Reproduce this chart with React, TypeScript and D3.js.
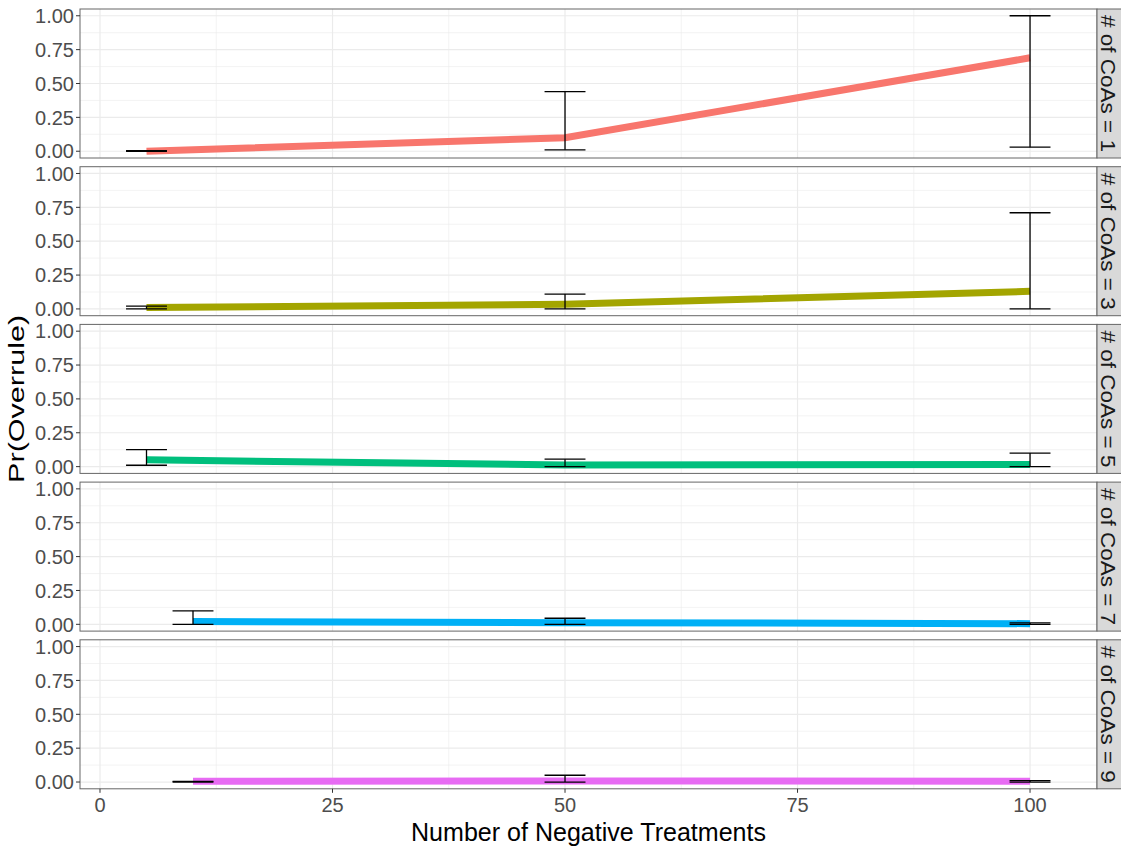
import React from 'react'
import * as d3 from 'd3'

// number of CoAs, one facet per value
const coas = [1, 3, 5, 7, 9]
const colors = ['#F8766D', '#A3A500', '#00BF7D', '#00B0F6', '#E76BF3']

// number of negative treatments per facet
const negTreatments = [
  [5, 50, 100],
  [5, 50, 100],
  [5, 50, 100],
  [10, 50, 100],
  [10, 50, 100]
]
// estimated Pr(Overrule)
const estimates = [
  [0.0, 0.1, 0.69],
  [0.01, 0.035, 0.13],
  [0.05, 0.012, 0.015],
  [0.02, 0.012, 0.005],
  [0.005, 0.008, 0.005]
]
const lowerCI = [
  [0.0, 0.01, 0.03],
  [0.0, 0.0, 0.0],
  [0.01, 0.0, 0.0],
  [0.0, 0.0, 0.0],
  [0.0, 0.0, 0.0]
]
const upperCI = [
  [0.005, 0.44, 1.0],
  [0.02, 0.11, 0.71],
  [0.125, 0.055, 0.1],
  [0.1, 0.045, 0.01],
  [0.005, 0.05, 0.01]
]

const xTicks = [0, 25, 50, 75, 100]
const xMinor = [12.5, 37.5, 62.5, 87.5]
const yTicks = [0, 0.25, 0.5, 0.75, 1]
const yMinor = [0.125, 0.375, 0.625, 0.875]

const W = 1121
const H = 847
const left = 80
const right = 1097
const stripW = 26
const top0 = 9
const panelH = 149
const step = 157.7
const capHalf = 2.2
const font = 'Liberation Sans, Arial, Helvetica, sans-serif'

export default function App() {
  const x = d3.scaleLinear().domain([-2.15, 107.2]).range([left, right])
  const line = d3.line<[number, number]>()

  return (
    <svg
      width={W}
      height={H}
      style={{ position: 'absolute', left: 0, top: 0, background: '#fff' }}
      fontFamily={font}
    >
      {coas.map((c, i) => {
        const top = top0 + i * step
        const y = d3.scaleLinear().domain([-0.05, 1.05]).range([top + panelH, top])
        const pts: [number, number][] = negTreatments[i].map((t, j) => [x(t), y(estimates[i][j])])
        return (
          <g key={c}>
            <rect x={left} y={top} width={right - left} height={panelH} fill="#fff" />
            {yMinor.map(v => (
              <line key={'ym' + v} x1={left} x2={right} y1={y(v)} y2={y(v)} stroke="#EBEBEB" strokeWidth={0.6} />
            ))}
            {xMinor.map(v => (
              <line key={'xm' + v} x1={x(v)} x2={x(v)} y1={top} y2={top + panelH} stroke="#EBEBEB" strokeWidth={0.6} />
            ))}
            {yTicks.map(v => (
              <line key={'y' + v} x1={left} x2={right} y1={y(v)} y2={y(v)} stroke="#EBEBEB" strokeWidth={1.2} />
            ))}
            {xTicks.map(v => (
              <line key={'x' + v} x1={x(v)} x2={x(v)} y1={top} y2={top + panelH} stroke="#EBEBEB" strokeWidth={1.2} />
            ))}
            <path d={line(pts) || ''} fill="none" stroke={colors[i]} strokeWidth={7} />
            {negTreatments[i].map((t, j) => (
              <g key={'e' + t} stroke="#000" strokeWidth={1.3}>
                <line x1={x(t)} x2={x(t)} y1={y(lowerCI[i][j])} y2={y(upperCI[i][j])} />
                <line x1={x(t - capHalf)} x2={x(t + capHalf)} y1={y(lowerCI[i][j])} y2={y(lowerCI[i][j])} />
                <line x1={x(t - capHalf)} x2={x(t + capHalf)} y1={y(upperCI[i][j])} y2={y(upperCI[i][j])} />
              </g>
            ))}
            <rect x={left} y={top} width={right - left} height={panelH} fill="none" stroke="#666" strokeWidth={1} />
            {yTicks.map(v => (
              <g key={'yl' + v}>
                <line x1={left - 4} x2={left} y1={y(v)} y2={y(v)} stroke="#333" strokeWidth={1} />
                <text x={left - 6} y={y(v)} dy="0.36em" textAnchor="end" fontSize={20} fill="#4D4D4D">
                  {d3.format('.2f')(v)}
                </text>
              </g>
            ))}
            <rect x={right} y={top} width={stripW} height={panelH} fill="#D9D9D9" stroke="#666" strokeWidth={1} />
            <text
              transform={`translate(${right + 4},${top + panelH / 2}) rotate(90)`}
              textAnchor="middle"
              fontSize={21}
              textLength={137}
              lengthAdjust="spacingAndGlyphs"
              fill="#1A1A1A"
            >
              {`# of CoAs = ${c}`}
            </text>
          </g>
        )
      })}
      {xTicks.map(v => {
        const b = top0 + 4 * step + panelH
        return (
          <g key={'xl' + v}>
            <line x1={x(v)} x2={x(v)} y1={b} y2={b + 4} stroke="#333" strokeWidth={1} />
            <text x={x(v)} y={b + 16} dy="0.36em" textAnchor="middle" fontSize={20} fill="#4D4D4D">
              {v}
            </text>
          </g>
        )
      })}
      <text
        x={(left + right) / 2}
        y={841}
        textAnchor="middle"
        fontSize={26}
        textLength={355}
        lengthAdjust="spacingAndGlyphs"
        fill="#000"
      >
        Number of Negative Treatments
      </text>
      <text
        transform={`translate(24,${top0 + (4 * step + panelH) / 2}) rotate(-90)`}
        textAnchor="middle"
        fontSize={22}
        textLength={168}
        lengthAdjust="spacingAndGlyphs"
        fill="#000"
      >
        Pr(Overrule)
      </text>
    </svg>
  )
}
